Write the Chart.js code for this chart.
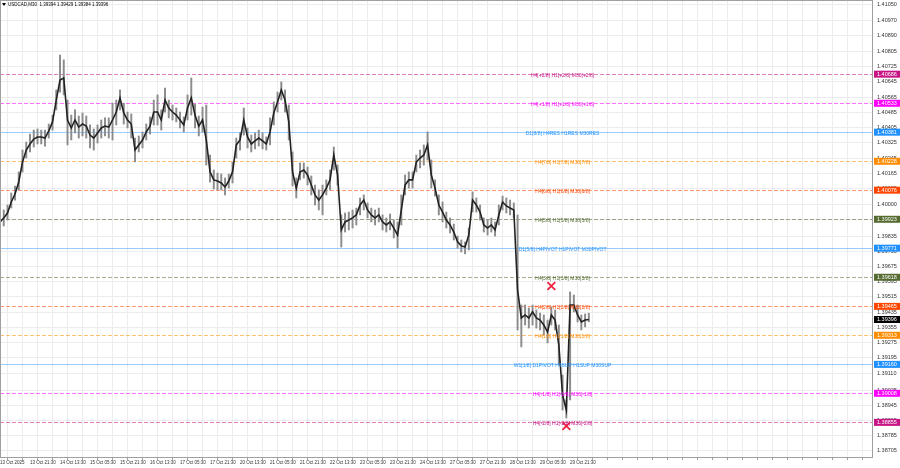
<!DOCTYPE html>
<html>
<head>
<meta charset="utf-8">
<script src="https://cdn.jsdelivr.net/npm/chart.js@4.4.0/dist/chart.umd.min.js"></script>
<style>
  html, body { margin: 0; padding: 0; background: #fff; }
  #wrap { width: 900px; height: 468px; }
</style>
</head>
<body>
<div id="wrap"><canvas id="chart" width="900" height="468"></canvas></div>
<script>
// USDCAD M30, one sample every 4 bars (2 hours)
const STEP = 4;
const closes = [
  1.39909, 1.39930, 1.39956, 1.40014, 1.40056, 1.40119, 1.40224, 1.40287, 1.40319, 1.40345,
  1.40356, 1.40356, 1.40350, 1.40387, 1.40435, 1.40550, 1.40655, 1.40666, 1.40445, 1.40403,
  1.40445, 1.40408, 1.40424, 1.40413, 1.40366, 1.40350, 1.40377, 1.40403, 1.40413, 1.40408,
  1.40445, 1.40487, 1.40561, 1.40482, 1.40445, 1.40424, 1.40287, 1.40314, 1.40340, 1.40382,
  1.40413, 1.40487, 1.40487, 1.40445, 1.40550, 1.40508, 1.40487, 1.40471, 1.40445, 1.40419,
  1.40508, 1.40561, 1.40471, 1.40413, 1.40445, 1.40340, 1.40172, 1.40130, 1.40124, 1.40114,
  1.40093, 1.40124, 1.40172, 1.40314, 1.40340, 1.40445, 1.40356, 1.40319, 1.40335, 1.40350,
  1.40335, 1.40319, 1.40382, 1.40482, 1.40540, 1.40603, 1.40550, 1.40435, 1.40172, 1.40087,
  1.40172, 1.40182, 1.40156, 1.40103, 1.40051, 1.40024, 1.40051, 1.40087, 1.40130, 1.40261,
  1.40156, 1.39867, 1.39909, 1.39919, 1.39930, 1.39946, 1.39998, 1.40024, 1.39972, 1.39946,
  1.39930, 1.39946, 1.39909, 1.39893, 1.39909, 1.39877, 1.39840, 1.39972, 1.40103, 1.40130,
  1.40130, 1.40224, 1.40245, 1.40261, 1.40314, 1.40156, 1.40087, 1.39998, 1.39961, 1.39919,
  1.39893, 1.39856, 1.39804, 1.39783, 1.39777, 1.39840, 1.40024, 1.39998, 1.39961, 1.39893,
  1.39877, 1.39893, 1.39867, 1.39946, 1.40014, 1.39993, 1.39982, 1.39972, 1.39551, 1.39404,
  1.39420, 1.39404, 1.39436, 1.39404, 1.39393, 1.39367, 1.39330, 1.39420, 1.39393, 1.39262,
  1.38999, 1.38920, 1.39472, 1.39472, 1.39420, 1.39383, 1.39393, 1.39396
];
const highs = [
  1.39951, 1.39972, 1.39998, 1.40061, 1.40098, 1.40172, 1.40287, 1.40329, 1.40371, 1.40392,
  1.40398, 1.40392, 1.40392, 1.40424, 1.40471, 1.40603, 1.40787, 1.40761, 1.40550, 1.40471,
  1.40498, 1.40466, 1.40482, 1.40466, 1.40419, 1.40398, 1.40419, 1.40445, 1.40456, 1.40456,
  1.40534, 1.40550, 1.40603, 1.40534, 1.40487, 1.40477, 1.40350, 1.40361, 1.40382, 1.40424,
  1.40461, 1.40550, 1.40577, 1.40498, 1.40613, 1.40550, 1.40524, 1.40508, 1.40487, 1.40461,
  1.40577, 1.40666, 1.40529, 1.40466, 1.40513, 1.40524, 1.40261, 1.40182, 1.40166, 1.40161,
  1.40140, 1.40161, 1.40224, 1.40350, 1.40377, 1.40508, 1.40403, 1.40366, 1.40377, 1.40392,
  1.40377, 1.40356, 1.40456, 1.40540, 1.40592, 1.40645, 1.40603, 1.40524, 1.40277, 1.40140,
  1.40219, 1.40219, 1.40198, 1.40151, 1.40103, 1.40077, 1.40103, 1.40130, 1.40182, 1.40303,
  1.40208, 1.39946, 1.39956, 1.39961, 1.39972, 1.39982, 1.40035, 1.40051, 1.40009, 1.39982,
  1.39972, 1.39982, 1.39946, 1.39930, 1.39951, 1.39919, 1.39909, 1.40051, 1.40156, 1.40172,
  1.40172, 1.40261, 1.40287, 1.40314, 1.40382, 1.40235, 1.40130, 1.40051, 1.40014, 1.39961,
  1.39930, 1.39898, 1.39835, 1.39814, 1.39804, 1.39877, 1.40067, 1.40035, 1.39998, 1.39930,
  1.39919, 1.39930, 1.39909, 1.39998, 1.40045, 1.40035, 1.40024, 1.40009, 1.39946, 1.39472,
  1.39472, 1.39457, 1.39472, 1.39446, 1.39430, 1.39420, 1.39393, 1.39462, 1.39446, 1.39367,
  1.39104, 1.38973, 1.39541, 1.39525, 1.39472, 1.39420, 1.39425, 1.39429
];
const lows = [
  1.39877, 1.39888, 1.39919, 1.39982, 1.40024, 1.40077, 1.40172, 1.40245, 1.40277, 1.40303,
  1.40319, 1.40319, 1.40308, 1.40350, 1.40392, 1.40498, 1.40592, 1.40577, 1.40314, 1.40340,
  1.40377, 1.40350, 1.40361, 1.40350, 1.40298, 1.40287, 1.40324, 1.40350, 1.40361, 1.40350,
  1.40340, 1.40419, 1.40498, 1.40424, 1.40403, 1.40350, 1.40224, 1.40277, 1.40298, 1.40340,
  1.40371, 1.40419, 1.40419, 1.40392, 1.40487, 1.40456, 1.40445, 1.40435, 1.40403, 1.40382,
  1.40445, 1.40471, 1.40403, 1.40361, 1.40382, 1.40208, 1.40119, 1.40082, 1.40077, 1.40077,
  1.40051, 1.40087, 1.40114, 1.40245, 1.40287, 1.40366, 1.40298, 1.40277, 1.40293, 1.40308,
  1.40293, 1.40287, 1.40314, 1.40419, 1.40487, 1.40550, 1.40487, 1.40340, 1.40098, 1.40035,
  1.40130, 1.40140, 1.40103, 1.40051, 1.39998, 1.39972, 1.39946, 1.40051, 1.40077, 1.40182,
  1.40103, 1.39777, 1.39856, 1.39867, 1.39877, 1.39893, 1.39946, 1.39972, 1.39930, 1.39909,
  1.39893, 1.39909, 1.39867, 1.39856, 1.39867, 1.39825, 1.39772, 1.39893, 1.40051, 1.40087,
  1.40087, 1.40172, 1.40193, 1.40208, 1.40235, 1.40087, 1.40045, 1.39946, 1.39909, 1.39877,
  1.39851, 1.39814, 1.39772, 1.39751, 1.39741, 1.39762, 1.39961, 1.39961, 1.39919, 1.39856,
  1.39840, 1.39856, 1.39835, 1.39893, 1.39972, 1.39956, 1.39946, 1.39930, 1.39341, 1.39252,
  1.39367, 1.39351, 1.39367, 1.39351, 1.39341, 1.39315, 1.39273, 1.39367, 1.39341, 1.39157,
  1.38920, 1.38878, 1.38973, 1.39436, 1.39383, 1.39341, 1.39357, 1.39384
];

// x axis: one label every 32 bars (16 hours)
const xTickLabels = [
  '13 Oct 2025', '13 Oct 21:30', '14 Oct 13:30', '15 Oct 05:30', '15 Oct 21:30',
  '16 Oct 13:30', '17 Oct 05:30', '17 Oct 21:30', '20 Oct 13:30', '21 Oct 05:30',
  '21 Oct 21:30', '22 Oct 13:30', '23 Oct 05:30', '23 Oct 21:30', '24 Oct 13:30',
  '27 Oct 05:30', '27 Oct 21:30', '28 Oct 13:30', '29 Oct 05:30', '29 Oct 21:30'
];
const yTickValues = [
  1.41050, 1.40970, 1.40890, 1.40805, 1.40725, 1.40645, 1.40565, 1.40485, 1.40405, 1.40325,
  1.40245, 1.40165, 1.40085, 1.40000, 1.39920, 1.39835, 1.39755, 1.39675, 1.39595, 1.39515,
  1.39435, 1.39355, 1.39275, 1.39195, 1.39110, 1.39025, 1.38945, 1.38865, 1.38785, 1.38705
];

// Murrey math levels
const levelValues = [
  1.40686, 1.40533, 1.40381, 1.40228, 1.40076, 1.39923, 1.39771,
  1.39618, 1.39465, 1.39313, 1.39160, 1.39008, 1.38855
];
const levelNames = [
  'H4[+2/8] H1[+2/8] M30[+2/8]', 'H4[+1/8] H1[+1/8] M30[+1/8]', 'D1[8/8] H4RES H1RES M30RES',
  'H4[7/8] H1[7/8] M30[7/8]', 'H4[6/8] H1[6/8] M30[6/8]', 'H4[5/8] H1[5/8] M30[5/8]',
  'D1[5/8] H4PIVOT H1PIVOT M30PIVOT', 'H4[3/8] H1[3/8] M30[3/8]', 'H4[2/8] H1[2/8] M30[2/8]',
  'H4[1/8] H1[1/8] M30[1/8]', 'W1[1/8] D1PIVOT H4SUP H1SUP M30SUP', 'H4[-1/8] H1[-1/8] M30[-1/8]',
  'H4[-2/8] H1[-2/8] M30[-2/8]'
];
const currentPrice = 1.39396;
const lastBar = ['1.39394', '1.39429', '1.39384', '1.39396'];

// red crosses
const markBars = [588, 604];
const markPrices = [1.39572, 1.38836];

const levelColors = [
  '#c71585', '#ff00ff', '#1e90ff', '#ff8c00', '#ff4500', '#556b2f', '#1e90ff',
  '#556b2f', '#ff4500', '#ff8c00', '#1e90ff', '#ff00ff', '#c71585'
];

const FONT = 'Liberation Sans';

const levelsPlugin = {
  id: 'levels',
  beforeDatasetsDraw(chart) {
    const { ctx, chartArea: a, scales: { y } } = chart;
    ctx.save();
    ctx.lineWidth = 1;
    levelValues.forEach((v, i) => {
      const py = Math.round(y.getPixelForValue(v)) + 0.5;
      const solid = levelColors[i] === '#1e90ff';
      ctx.globalAlpha = solid ? 0.45 : 0.55;
      ctx.strokeStyle = levelColors[i];
      ctx.setLineDash(solid ? [] : [4, 2]);
      ctx.beginPath();
      ctx.moveTo(a.left, py);
      ctx.lineTo(a.right, py);
      ctx.stroke();
    });
    ctx.restore();
  },
  afterDatasetsDraw(chart) {
    const { ctx, scales: { x, y } } = chart;
    const cx = x.getPixelForValue(600);
    ctx.save();
    ctx.font = '5px "' + FONT + '"';
    ctx.textAlign = 'center';
    ctx.textBaseline = 'middle';
    levelValues.forEach((v, i) => {
      ctx.fillStyle = levelColors[i];
      ctx.fillText(levelNames[i], cx, y.getPixelForValue(v) + 1.5);
    });
    ctx.restore();
  },
  afterDraw(chart) {
    const { ctx, chartArea: a, scales: { y } } = chart;
    ctx.save();
    // frame
    ctx.strokeStyle = '#a0a0a0';
    ctx.lineWidth = 1;
    ctx.strokeRect(a.left + 0.5, a.top + 0.5, a.right - a.left, a.bottom - a.top);
    // price boxes on the right axis
    ctx.font = '5.5px "' + FONT + '"';
    ctx.textBaseline = 'middle';
    ctx.textAlign = 'left';
    const box = (v, col) => {
      const py = y.getPixelForValue(v);
      ctx.fillStyle = col;
      ctx.fillRect(a.right + 2, py - 3.5, 900 - a.right - 2, 7);
      ctx.fillStyle = '#fff';
      ctx.fillText(v.toFixed(5), a.right + 5, py + 0.3);
    };
    levelValues.forEach((v, i) => box(v, levelColors[i]));
    box(currentPrice, '#000');
    // symbol title
    ctx.fillStyle = '#000';
    ctx.beginPath();
    ctx.moveTo(2, 3); ctx.lineTo(6, 3); ctx.lineTo(4, 6); ctx.closePath();
    ctx.fill();
    ctx.font = '4.5px "' + FONT + '"';
    ctx.fillText('USDCAD,M30  ' + lastBar.join(' '), 8, 5);
    ctx.restore();
  }
};

new Chart(document.getElementById('chart'), {
  type: 'bar',
  data: {
    datasets: [
      {
        type: 'line',
        data: closes.map((c, i) => ({ x: i * STEP, y: c })),
        borderColor: '#222',
        borderWidth: 1.6,
        pointRadius: 0,
        tension: 0,
        order: 1
      },
      {
        type: 'bar',
        data: lows.map((l, i) => ({ x: i * STEP, y: [l, highs[i]] })),
        backgroundColor: '#8c8c8c',
        barThickness: 1.3,
        order: 2
      },
      {
        type: 'scatter',
        data: markBars.map((b, i) => ({ x: b, y: markPrices[i] })),
        pointStyle: 'crossRot',
        pointRadius: 5.5,
        borderColor: '#f0203c',
        borderWidth: 1.8,
        order: 0
      }
    ]
  },
  options: {
    responsive: false,
    animation: false,
    events: [],
    layout: { padding: 0, autoPadding: false },
    plugins: { legend: { display: false }, tooltip: { enabled: false } },
    scales: {
      x: {
        type: 'linear',
        min: 0,
        max: 930,
        offset: false,
        afterFit(s) { s.height = 11; s.paddingLeft = 0; s.paddingRight = 0; },
        afterBuildTicks(s) {
          const t = [];
          for (let v = 0; v <= 928; v += 16) t.push({ value: v });
          s.ticks = t;
        },
        grid: { color: '#ececec', tickLength: 3, tickColor: '#a0a0a0' },
        border: { color: '#a0a0a0' },
        ticks: {
          autoSkip: false,
          maxRotation: 0,
          align: 'start',
          padding: 0,
          color: '#333',
          font: { family: FONT, size: 4.5 },
          callback: (v) => (v % 32 === 0 && xTickLabels[v / 32]) ? xTickLabels[v / 32] : ''
        }
      },
      y: {
        position: 'right',
        min: 1.38673,
        max: 1.41076,
        afterFit(s) { s.width = 28; s.paddingTop = 0; s.paddingBottom = 0; },
        afterBuildTicks(s) { s.ticks = yTickValues.map(v => ({ value: v })); },
        grid: { color: '#ececec', drawTicks: false },
        border: { color: '#a0a0a0' },
        ticks: {
          padding: 5,
          color: '#333',
          font: { family: FONT, size: 5.5 },
          callback: (v) => v.toFixed(5)
        }
      }
    }
  },
  plugins: [levelsPlugin]
});
</script>
</body>
</html>
